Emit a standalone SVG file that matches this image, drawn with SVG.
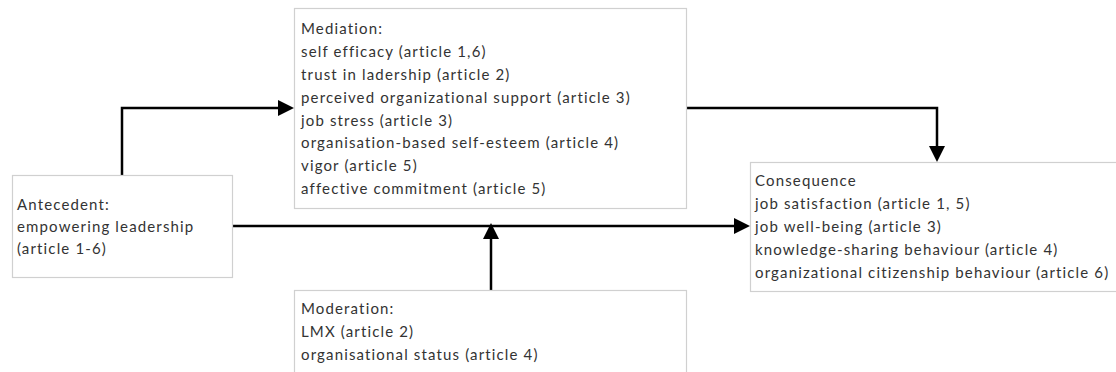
<svg xmlns="http://www.w3.org/2000/svg" width="1116" height="372" viewBox="0 0 1116 372">
<defs>
<style>
.box{fill:#ffffff;stroke:#d0d0d0;stroke-width:1.2}
.t{font-family:Lato,"Liberation Sans",sans-serif;font-size:15px;fill:#333333;letter-spacing:1.15px}
.c{fill:none;stroke:#000000;stroke-width:2.5}
</style>
<marker id="ah" markerUnits="userSpaceOnUse" markerWidth="16" markerHeight="16" refX="12" refY="8" orient="auto">
<path d="M0,0 L16,8 L0,16 z" fill="#000000"/>
</marker>
</defs>
<rect width="1116" height="372" fill="#ffffff"/>
<g id="connectors">
<path class="c" d="M122 175 V108 H290" marker-end="url(#ah)"/>
<path class="c" d="M232 226 H746" marker-end="url(#ah)"/>
<path class="c" d="M491 290.5 V227" marker-end="url(#ah)"/>
<path class="c" d="M686 108 H937 V158" marker-end="url(#ah)"/>
</g>
<g id="antecedent">
<rect class="box" x="12.5" y="175.5" width="220" height="102"/>
<text class="t" x="17" y="210">Antecedent:</text>
<text class="t" x="17" y="232">empowering leadership</text>
<text class="t" x="17" y="254">(article 1-6)</text>
</g>
<g id="mediation">
<rect class="box" x="294.5" y="8.5" width="392" height="200"/>
<text class="t" x="301" y="34">Mediation:</text>
<text class="t" x="301" y="57">self efficacy (article 1,6)</text>
<text class="t" x="301" y="80">trust in ladership (article 2)</text>
<text class="t" x="301" y="103">perceived organizational support (article 3)</text>
<text class="t" x="301" y="126">job stress (article 3)</text>
<text class="t" x="301" y="148">organisation-based self-esteem (article 4)</text>
<text class="t" x="301" y="171">vigor (article 5)</text>
<text class="t" x="301" y="194">affective commitment (article 5)</text>
</g>
<g id="consequence">
<rect class="box" x="750.5" y="162.5" width="370" height="129"/>
<text class="t" x="755" y="186">Consequence</text>
<text class="t" x="755" y="209">job satisfaction (article 1, 5)</text>
<text class="t" x="755" y="232">job well-being (article 3)</text>
<text class="t" x="755" y="255">knowledge-sharing behaviour (article 4)</text>
<text class="t" x="755" y="278">organizational citizenship behaviour (article 6)</text>
</g>
<g id="moderation">
<rect class="box" x="294.5" y="290.5" width="392" height="90"/>
<text class="t" x="301" y="314">Moderation:</text>
<text class="t" x="301" y="337">LMX (article 2)</text>
<text class="t" x="301" y="360">organisational status (article 4)</text>
</g>
</svg>
